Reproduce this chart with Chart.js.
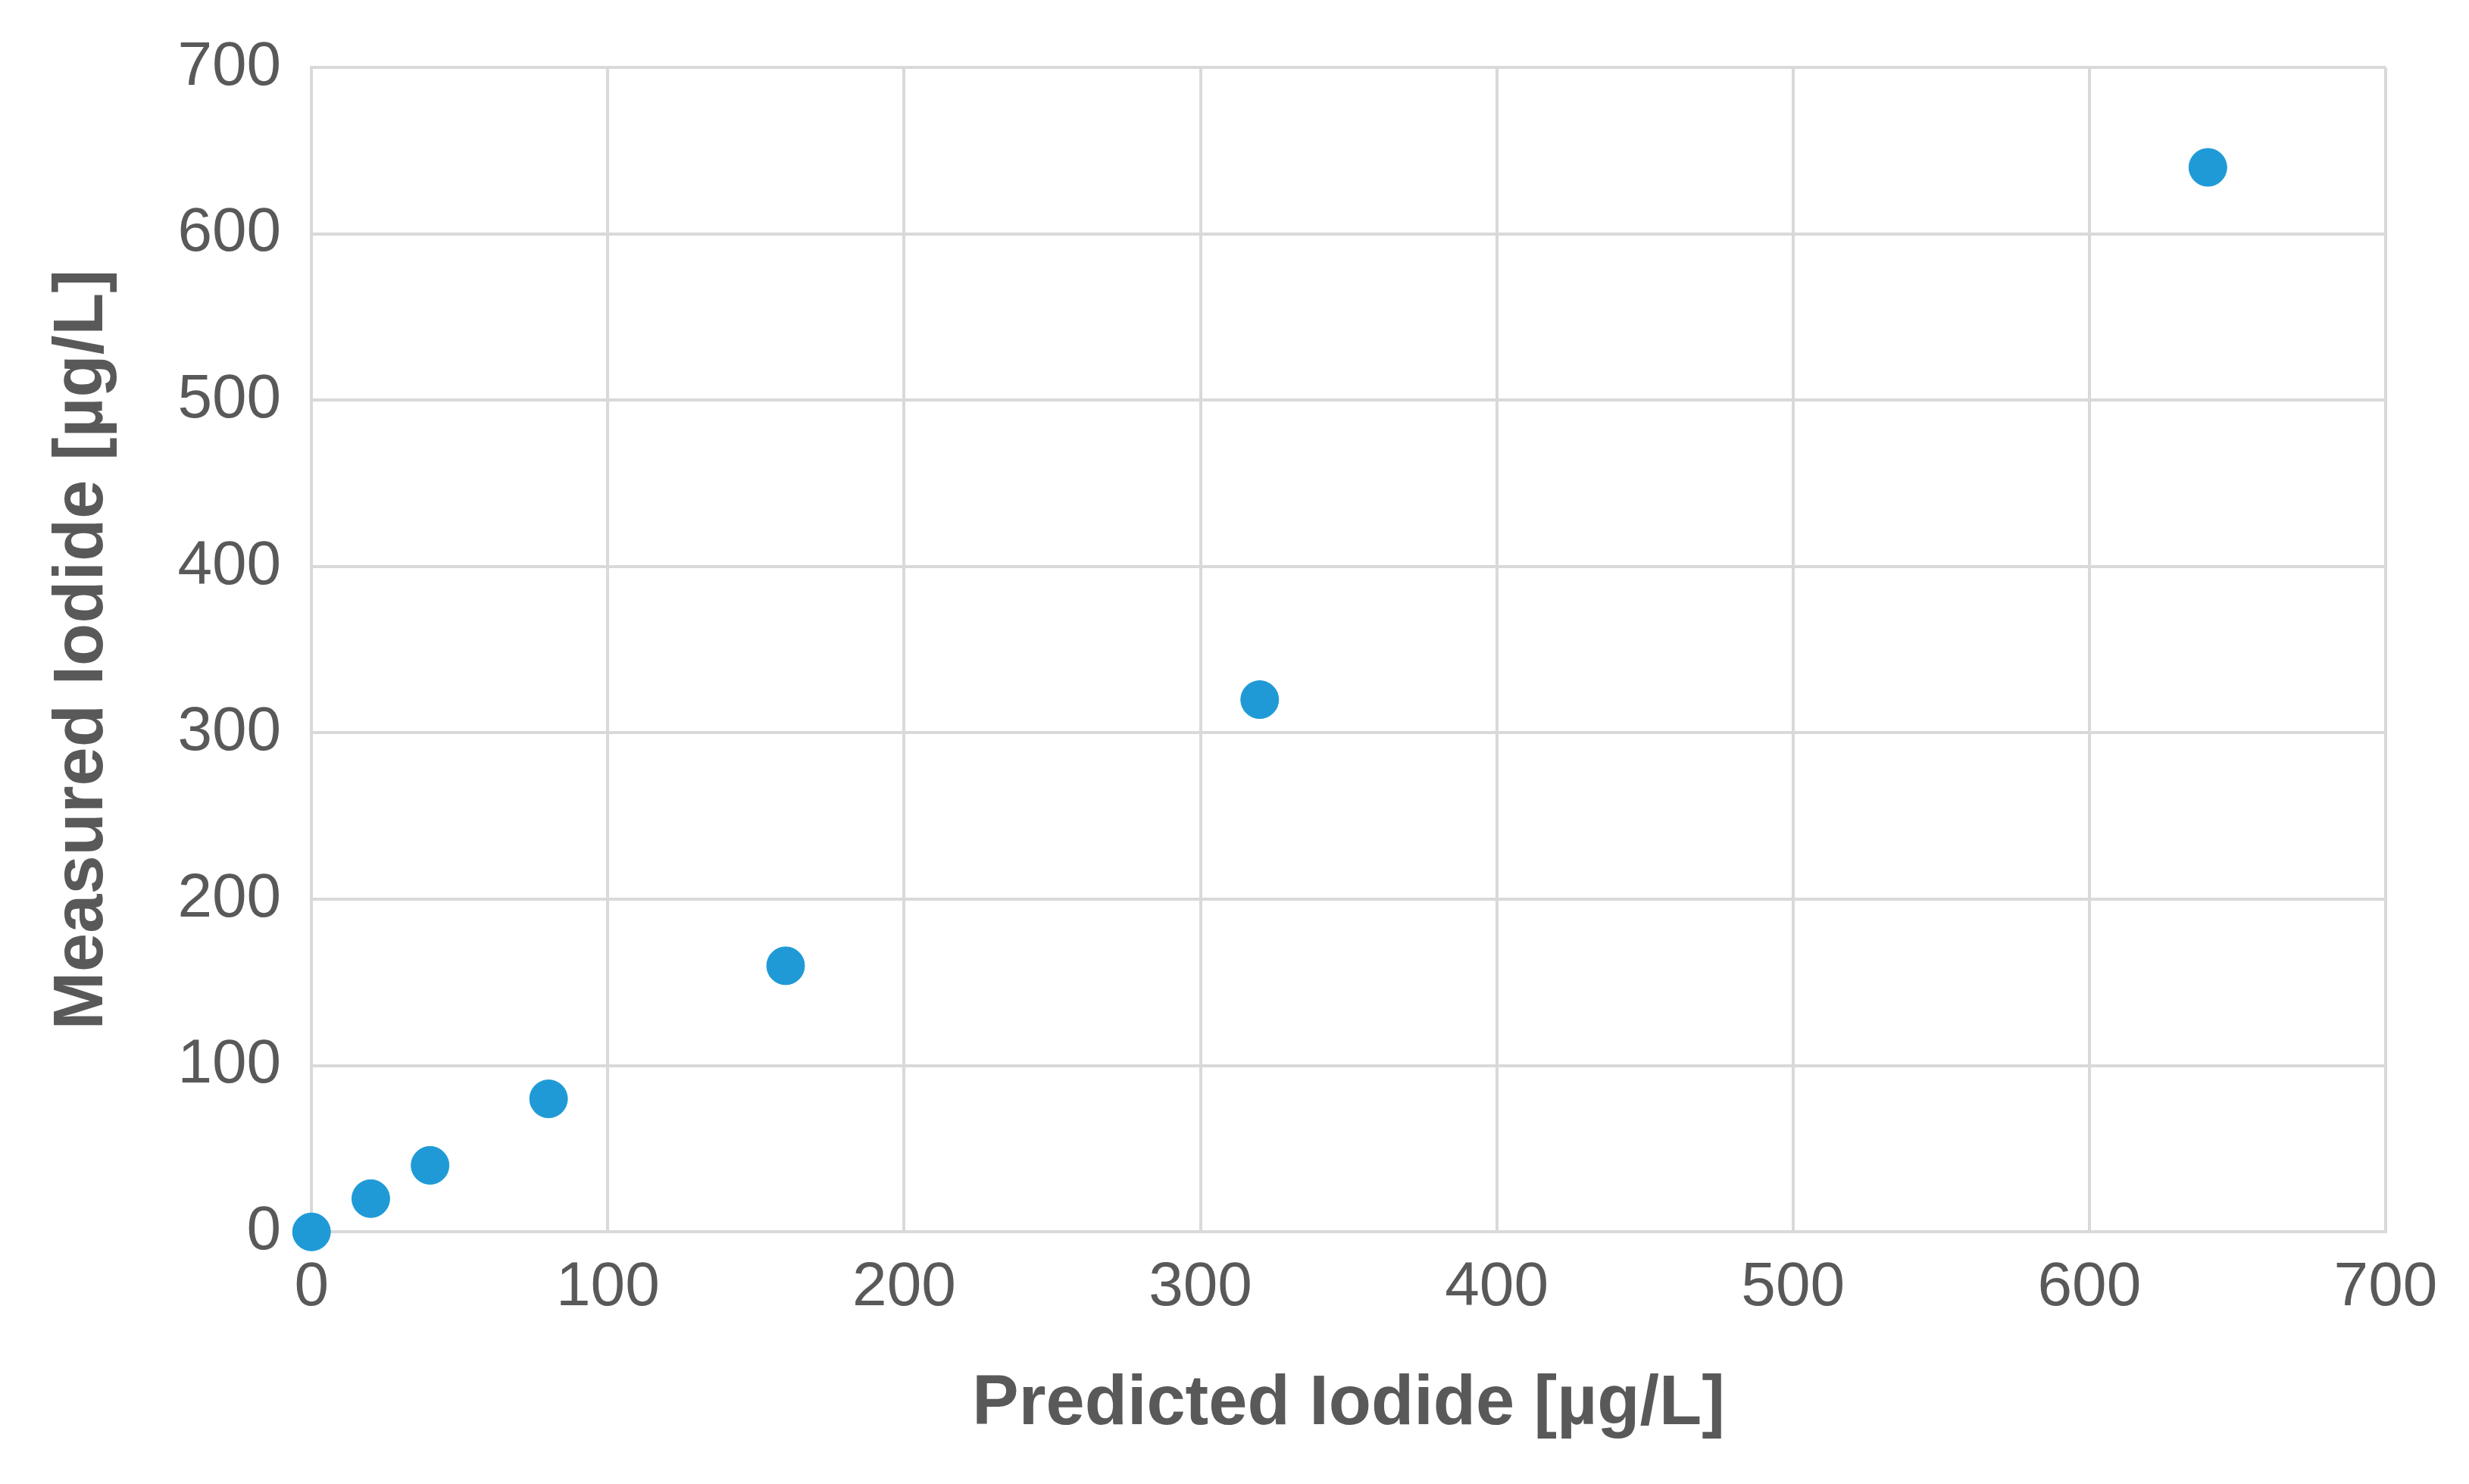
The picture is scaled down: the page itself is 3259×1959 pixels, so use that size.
<!DOCTYPE html>
<html>
<head>
<meta charset="utf-8">
<script src="https://cdn.jsdelivr.net/npm/chart.js"></script>
<style>
  html, body { margin: 0; padding: 0; background: #fff; }
  #wrap { width: 3259px; height: 1959px; }
</style>
</head>
<body>
<div id="wrap"><canvas id="c"></canvas></div>
<script>
const predicted = [0, 20, 40, 80, 160, 320, 640];
const measured = [0, 20, 40, 80, 160, 320, 640];
const xTitle = 'Predicted Iodide [µg/L]';
const yTitle = 'Measured Iodide [µg/L]';

const grey = '#595959';
const gridColor = '#d9d9d9';

new Chart(document.getElementById('c'), {
  type: 'scatter',
  data: {
    datasets: [{
      data: predicted.map((x, i) => ({ x: x, y: measured[i] })),
      backgroundColor: '#1f9ad6',
      borderColor: '#1f9ad6',
      pointRadius: 25,
      pointHoverRadius: 25,
      clip: false
    }]
  },
  options: {
    responsive: true,
    maintainAspectRatio: false,
    animation: false,
    layout: { padding: { top: 75, right: 110, bottom: 45, left: 50 } },
    plugins: { legend: { display: false }, tooltip: { enabled: false } },
    scales: {
      x: {
        min: 0, max: 700,
        ticks: { stepSize: 100, color: grey, font: { family: 'Liberation Sans', size: 82 }, padding: 25 },
        grid: { color: gridColor, lineWidth: 4, drawTicks: false },
        border: { color: gridColor, width: 4 },
        title: { display: true, text: xTitle, color: grey, font: { family: 'Liberation Sans', size: 92, weight: 'bold' }, padding: { top: 25 } }
      },
      y: {
        min: 0, max: 700,
        ticks: { stepSize: 100, color: grey, font: { family: 'Liberation Sans', size: 82 }, padding: 40 },
        grid: { color: gridColor, lineWidth: 4, drawTicks: false },
        border: { color: gridColor, width: 4 },
        title: { display: true, text: yTitle, color: grey, font: { family: 'Liberation Sans', size: 92, weight: 'bold' }, padding: { bottom: 30 } }
      }
    }
  }
});
</script>
</body>
</html>
